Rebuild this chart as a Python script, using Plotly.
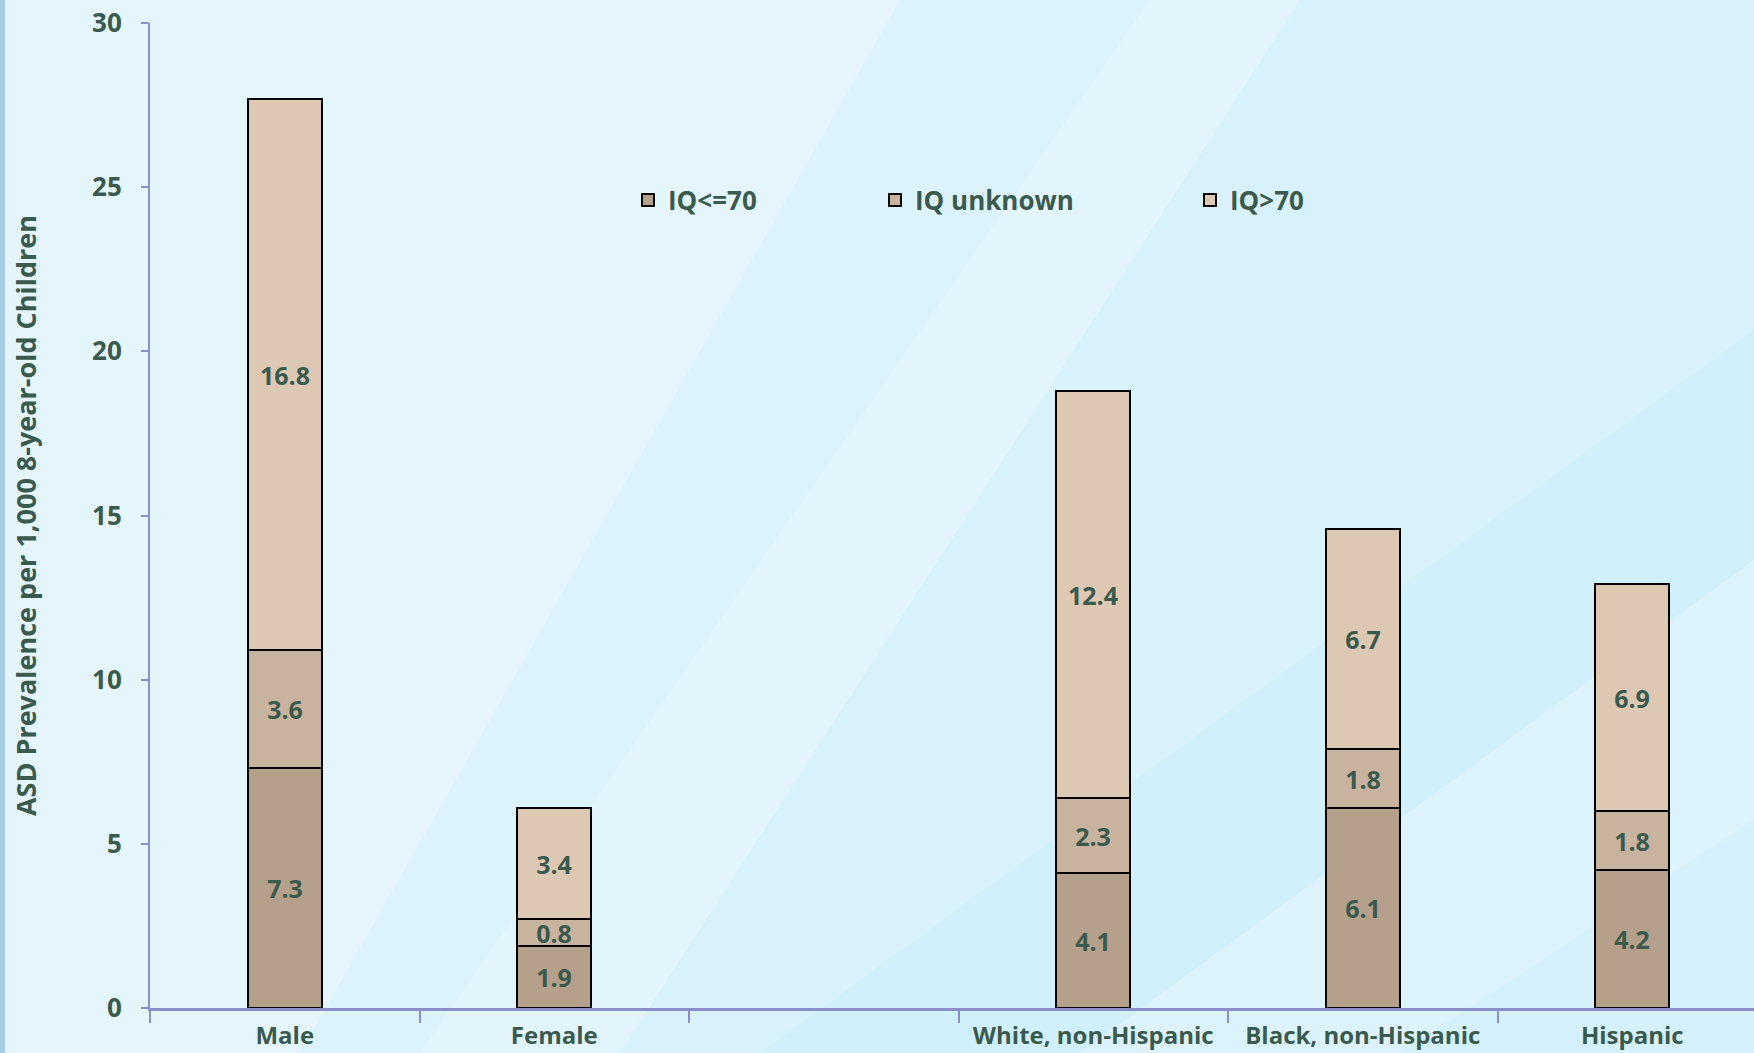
import plotly.graph_objects as go

categories = ["Male", "Female", " ", "White, non-Hispanic", "Black, non-Hispanic", "Hispanic"]
bar_categories = ["Male", "Female", "White, non-Hispanic", "Black, non-Hispanic", "Hispanic"]
iq_le70 = [7.3, 1.9, 4.1, 6.1, 4.2]
iq_unknown = [3.6, 0.8, 2.3, 1.8, 1.8]
iq_gt70 = [16.8, 3.4, 12.4, 6.7, 6.9]
series_names = ["IQ<=70", "IQ unknown", "IQ>70"]
series_colors = ["#b5a08b", "#c8b39f", "#ddc8b4"]
y_ticks = [0, 5, 10, 15, 20, 25, 30]

W, H = 1754, 1053
ML, MR, MT, MB = 150, 0, 23, 45
PW, PH = W - ML - MR, H - MT - MB
txt_color = "#3b5a4e"
font_family = "Open Sans"


def px_x(px):
    return (px - ML) / PW


def px_y(py):
    return (H - MB - py) / PH


fig = go.Figure()
legend_ids = ["legend", "legend2", "legend3"]
for name, vals, col, lg in zip(series_names, [iq_le70, iq_unknown, iq_gt70], series_colors, legend_ids):
    fig.add_trace(go.Bar(
        x=bar_categories, y=vals, name=name,
        marker=dict(color=col, line=dict(color="#000000", width=2)),
        width=0.275,
        text=[f"{v:.1f}" for v in vals],
        textposition="inside", insidetextanchor="middle", textangle=0,
        constraintext="none",
        textfont=dict(family=font_family, size=25, color=txt_color, weight="bold"),
        legend=lg, showlegend=True,
    ))

# subtle background streaks (paper-referenced shapes)
def poly(pts, color):
    path = "M " + " L ".join(f"{px_x(x):.4f} {px_y(y):.4f}" for x, y in pts) + " Z"
    return dict(type="path", xref="paper", yref="paper", layer="below", path=path,
                fillcolor=color, line=dict(width=0))

shapes = [
    poly([(0, 0), (900, 0), (300, 1053), (0, 1053)], "rgba(240,251,255,0.40)"),
    poly([(420, 1053), (1150, 0), (1300, 0), (620, 1053)], "rgba(240,251,255,0.30)"),
    poly([(760, 1053), (1754, 330), (1754, 560), (1080, 1053)], "rgba(190,236,252,0.40)"),
    poly([(1400, 1053), (1754, 820), (1754, 1053)], "rgba(196,238,252,0.30)"),
    poly([(1300, 0), (1754, 0), (1754, 330), (760, 1053), (620, 1053)], "rgba(205,238,250,0.25)"),
    dict(type="rect", xref="paper", yref="paper", layer="below",
         x0=px_x(0), x1=px_x(5), y0=px_y(1053), y1=px_y(0),
         fillcolor="#a6cfe6", line=dict(width=0)),
]

leg_font = dict(family=font_family, size=26, color=txt_color, weight="bold")
leg_y = px_y(200)
leg_common = dict(orientation="h", xanchor="left", yanchor="middle", visible=True,
                  bgcolor="rgba(0,0,0,0)", borderwidth=0, font=leg_font)

fig.update_layout(
    width=W, height=H,
    showlegend=True,
    margin=dict(l=ML, r=MR, t=MT, b=MB, autoexpand=False),
    paper_bgcolor="#ddf3fb",
    plot_bgcolor="rgba(0,0,0,0)",
    barmode="stack",
    bargap=0,
    font=dict(family=font_family, color=txt_color),
    shapes=shapes,
    legend=dict(x=px_x(628), y=leg_y, **leg_common),
    legend2=dict(x=px_x(875), y=leg_y, **leg_common),
    legend3=dict(x=px_x(1190), y=leg_y, **leg_common),
    xaxis=dict(
        type="category", categoryorder="array", categoryarray=categories,
        range=[-0.5, -0.5 + PW / 269.5],
        showline=True, linecolor="#8a8fcc", linewidth=3,
        ticks="outside", tickson="boundaries", ticklen=12, tickcolor="#8a8fcc", tickwidth=1.5,
        tickfont=dict(family=font_family, size=24, color=txt_color, weight="bold"),
        showgrid=False, zeroline=False,
        ticklabelstandoff=4,
    ),
    yaxis=dict(
        range=[0, 30], tickvals=y_ticks,
        showline=True, linecolor="#8a8fcc", linewidth=2,
        ticks="outside", ticklen=7, tickcolor="#8a8fcc", tickwidth=2,
        tickfont=dict(family=font_family, size=26, color=txt_color, weight="bold"),
        showgrid=False, zeroline=False,
        ticklabelstandoff=14,
        title=dict(text="ASD Prevalence per 1,000 8-year-old Children",
                   font=dict(family=font_family, size=27, color=txt_color, weight="bold"),
                   standoff=48),
    ),
)

fig.write_html("out.html")
